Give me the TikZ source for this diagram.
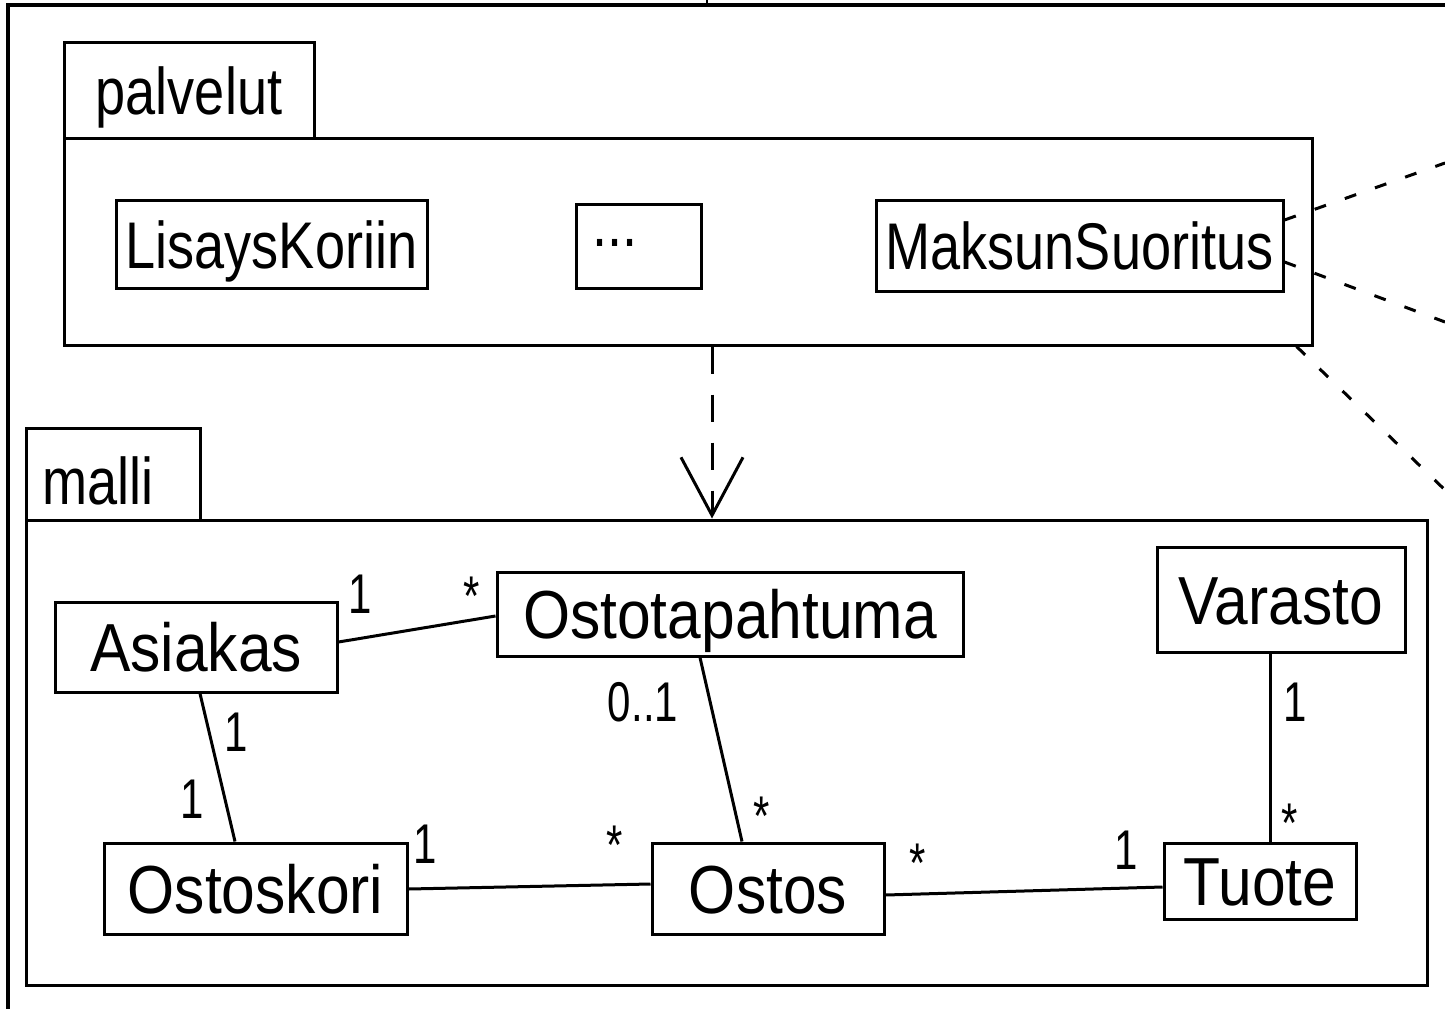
\documentclass[tikz,border=0pt]{standalone}
\usepackage{fontspec}
\setmainfont{Liberation Sans}
\newfontfamily\clsfam[FakeStretch=0.89]{Liberation Sans}
\newfontfamily\pkgfam[FakeStretch=0.82]{Liberation Sans}
\newfontfamily\mulfam[FakeStretch=0.75]{Liberation Sans}
\usetikzlibrary{arrows.meta}
\begin{document}
\begin{tikzpicture}[x=1pt,y=-1pt,
  box/.style={draw, line width=3pt, inner sep=0pt, rectangle},
  cls/.style={box, font=\clsfam\fontsize{68}{70}\selectfont, text height=49pt, text depth=0pt},
  svc/.style={box, font=\pkgfam\fontsize{66}{68}\selectfont, text height=48pt, text depth=0pt},
  pkgtxt/.style={inner sep=0pt, font=\pkgfam\fontsize{66}{68}\selectfont},
  mult/.style={inner sep=0pt, anchor=base, font=\mulfam\fontsize{56}{58}\selectfont},
  assoc/.style={line width=3pt},
  dep/.style={line width=3pt, dash pattern=on 27pt off 21pt},
  ext/.style={line width=3pt, dash pattern=on 12pt off 20pt}
]
\useasboundingbox (0,0) rectangle (1445,1009);
% outer frame
\coordinate (ftl) at (8,5);
\coordinate (ftr) at (1445,5);
\coordinate (fbl) at (8,1009);
\draw[line width=3.5pt] (ftr) -- (ftl) -- (fbl);
\coordinate (tk1) at (707,0);
\coordinate (tk2) at (707,5);
\draw[line width=2pt] (tk1) -- (tk2);

% palvelut package
\node[box, font=\pkgfam\fontsize{66}{68}\selectfont, text height=48pt, text depth=0pt, minimum width=250pt, minimum height=96pt] (ptab) at (189,90) {palvelut};
\node[box, minimum width=1248pt, minimum height=207pt] (pbody) at (688,241.5) {};
\node[svc, minimum width=311pt, minimum height=88pt] (lisays) at (271.5,244) {LisaysKoriin};
\node[svc, minimum width=125pt, minimum height=84pt] (dotsbox) at (638.5,246) {};
\node[pkgtxt, anchor=base west] (dotstxt) at (592,246) {...};
\node[svc, minimum width=407pt, minimum height=91pt] (maksu) at (1079.5,245.5) {MaksunSuoritus};

% malli package
\node[box, minimum width=174pt, minimum height=92pt] (mtab) at (113,474) {};
\node[pkgtxt] (mtabtxt) at (98,481) {malli};
\node[box, minimum width=1401pt, minimum height=465pt] (mbody) at (726.5,752.5) {};

\node[cls, minimum width=282pt, minimum height=90pt] (asiakas) at (196,647) {Asiakas};
\node[cls, minimum width=466pt, minimum height=84pt] (ostot) at (730,614) {Ostotapahtuma};
\node[cls, minimum width=248pt, minimum height=105pt] (varasto) at (1281,599.5) {Varasto};
\node[cls, minimum width=303pt, minimum height=91pt] (ostoskori) at (255.5,888.5) {Ostoskori};
\node[cls, minimum width=232pt, minimum height=91pt] (ostos) at (768,888.5) {Ostos};
\node[cls, minimum width=192pt, minimum height=76pt] (tuote) at (1260,881) {Tuote};

% associations
\draw[assoc] ([yshift=5pt]asiakas.east) -- ([yshift=-2pt]ostot.west);
\draw[assoc] ([xshift=4pt]asiakas.south) -- ([xshift=-20.5pt]ostoskori.north);
\draw[assoc] ([xshift=-30pt]ostot.south) -- ([xshift=-26pt]ostos.north);
\draw[assoc] ([yshift=-0.5pt]ostoskori.east) -- ([yshift=4.5pt]ostos.west);
\draw[assoc] ([yshift=-6.5pt]ostos.east) -- ([yshift=-6pt]tuote.west);
\draw[assoc] ([xshift=-11pt]varasto.south) -- ([xshift=10pt]tuote.north);

% multiplicities
\node[mult] (m1) at (360,613) {1};
\node[mult] (m2) at (472,615) {*};
\node[mult] (m3) at (236,751) {1};
\node[mult] (m4) at (192,818) {1};
\node[mult] (m5) at (643,721) {0..1};
\node[mult] (m6) at (762,835) {*};
\node[mult] (m7) at (425,863) {1};
\node[mult] (m8) at (615,864) {*};
\node[mult] (m9) at (918,882) {*};
\node[mult] (m10) at (1126,869) {1};
\node[mult] (m11) at (1295,721) {1};
\node[mult] (m12) at (1290,842) {*};

% dependency
\draw[dep, -{Straight Barb[length=58pt, width=62pt]}] ([xshift=24pt]pbody.south) -- ([xshift=-14.5pt]mbody.north);

% dashed lines leaving the picture
\coordinate (e1) at (1445,163);
\coordinate (e2) at (1445,322);
\coordinate (e3) at (1445,490);
\draw[ext] ([yshift=25.5pt]maksu.east) -- (e1);
\draw[ext] ([yshift=-16.5pt]maksu.east) -- (e2);
\draw[ext] ([xshift=-17pt]pbody.south east) -- (e3);
\end{tikzpicture}
\end{document}
